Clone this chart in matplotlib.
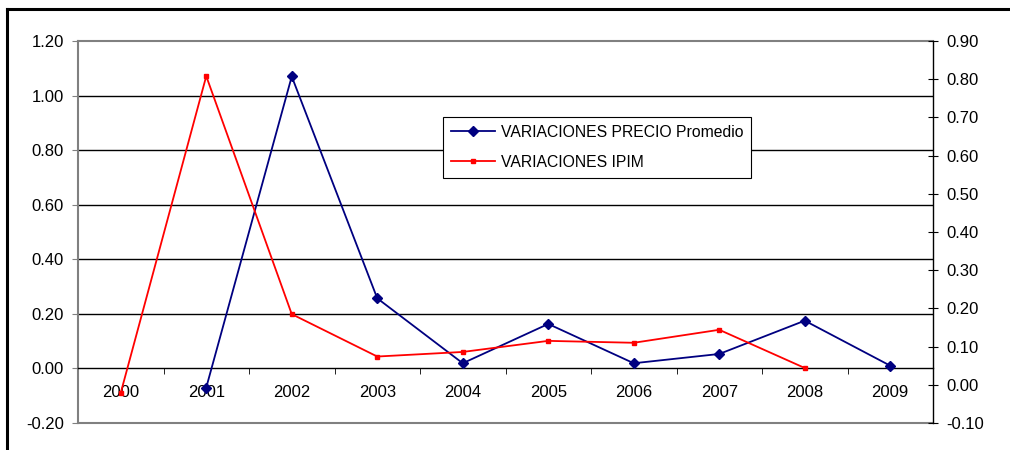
import numpy as np
import matplotlib.pyplot as plt
from matplotlib.lines import Line2D

plt.rcParams['font.family'] = ['Liberation Sans', 'DejaVu Sans']

years = ['2000', '2001', '2002', '2003', '2004', '2005', '2006', '2007', '2008', '2009']
# VARIACIONES PRECIO Promedio (left axis), starts in 2001
precio_years = years[1:]
precio = [-0.07, 1.07, 0.257, 0.019, 0.163, 0.019, 0.053, 0.175, 0.010]
# VARIACIONES IPIM (right axis), ends in 2008
ipim_years = years[:9]
ipim = [-0.021, 0.808, 0.185, 0.074, 0.086, 0.115, 0.110, 0.144, 0.044]

left_ticks = [-0.20, 0.00, 0.20, 0.40, 0.60, 0.80, 1.00, 1.20]
right_ticks = [-0.10, 0.00, 0.10, 0.20, 0.30, 0.40, 0.50, 0.60, 0.70, 0.80, 0.90]

fig = plt.figure(figsize=(10.1, 4.5), dpi=100)
ax = fig.add_axes([78 / 1010, 27 / 450, 855 / 1010, 382 / 450])
ax2 = ax.twinx()

xpos = {y: i for i, y in enumerate(years)}

# gridlines on the left axis
for t in left_ticks[2:-1]:
    ax.axhline(t, color='black', lw=1, zorder=1)
ax.axhline(-0.2, color='#808080', lw=1.5, zorder=1, clip_on=False)

ax.set_xlim(-0.5, 9.5)
ax.set_ylim(-0.20, 1.20)
ax.set_yticks(left_ticks)
ax.set_yticklabels([f'{t:.2f}' for t in left_ticks])

ax.spines['top'].set_color('#808080')
ax.spines['top'].set_linewidth(1.5)
ax.spines['left'].set_color('#808080')
ax.spines['left'].set_linewidth(1.5)
ax.spines['right'].set_visible(False)
ax.spines['bottom'].set_position(('data', 0))
ax.spines['bottom'].set_color('black')
ax.spines['bottom'].set_linewidth(1)

ax.set_xticks(range(len(years)))
ax.set_xticklabels(years)
ax.set_xticks(np.arange(0.5, 9.5, 1), minor=True)
ax.tick_params(axis='x', which='major', length=0, pad=12, labelsize=12)
ax.tick_params(axis='x', which='minor', length=4, direction='out', color='black')
ax.tick_params(axis='y', length=4, direction='out', color='#808080', labelsize=12, pad=6)

ax.plot([xpos[y] for y in precio_years], precio, color='#000080', lw=1.3,
        marker='D', markersize=5, zorder=3)

ax2.set_ylim(-0.10, 0.90)
ax2.set_yticks(right_ticks)
ax2.set_yticklabels([f'{t:.2f}' for t in right_ticks])
for s in ['top', 'left', 'bottom']:
    ax2.spines[s].set_visible(False)
ax2.spines['right'].set_color('black')
ax2.spines['right'].set_linewidth(1)
ax2.tick_params(axis='y', length=7, direction='inout', color='black', labelsize=12, pad=6)
ax2.plot([xpos[y] for y in ipim_years], ipim, color='#FF0000', lw=1.3,
         marker='s', markersize=2.2, zorder=3)

handles = [
    Line2D([], [], color='#000080', lw=1.3, marker='D', markersize=5),
    Line2D([], [], color='#FF0000', lw=1.3, marker='s', markersize=2.2),
]
leg = ax2.legend(handles, ['VARIACIONES PRECIO Promedio', 'VARIACIONES IPIM'],
                 loc='upper left', bbox_to_anchor=((443 - 78) / 855, (423 - 117) / 382),
                 frameon=True, fancybox=False, framealpha=1, edgecolor='black',
                 fontsize=11.3, handlelength=2.8, borderpad=0.5, labelspacing=0.95,
                 handletextpad=0.4, borderaxespad=0)
leg.get_frame().set_linewidth(0.8)
leg.set_zorder(10)

# outer chart frame
fig.add_artist(Line2D([7 / 1010, 7 / 1010], [0, 1 - 9 / 450], color='black', lw=2.2,
                      transform=fig.transFigure))
fig.add_artist(Line2D([7 / 1010, 1], [1 - 9 / 450, 1 - 9 / 450], color='black', lw=2.2,
                      transform=fig.transFigure))

fig.savefig('out.png', dpi=100)
